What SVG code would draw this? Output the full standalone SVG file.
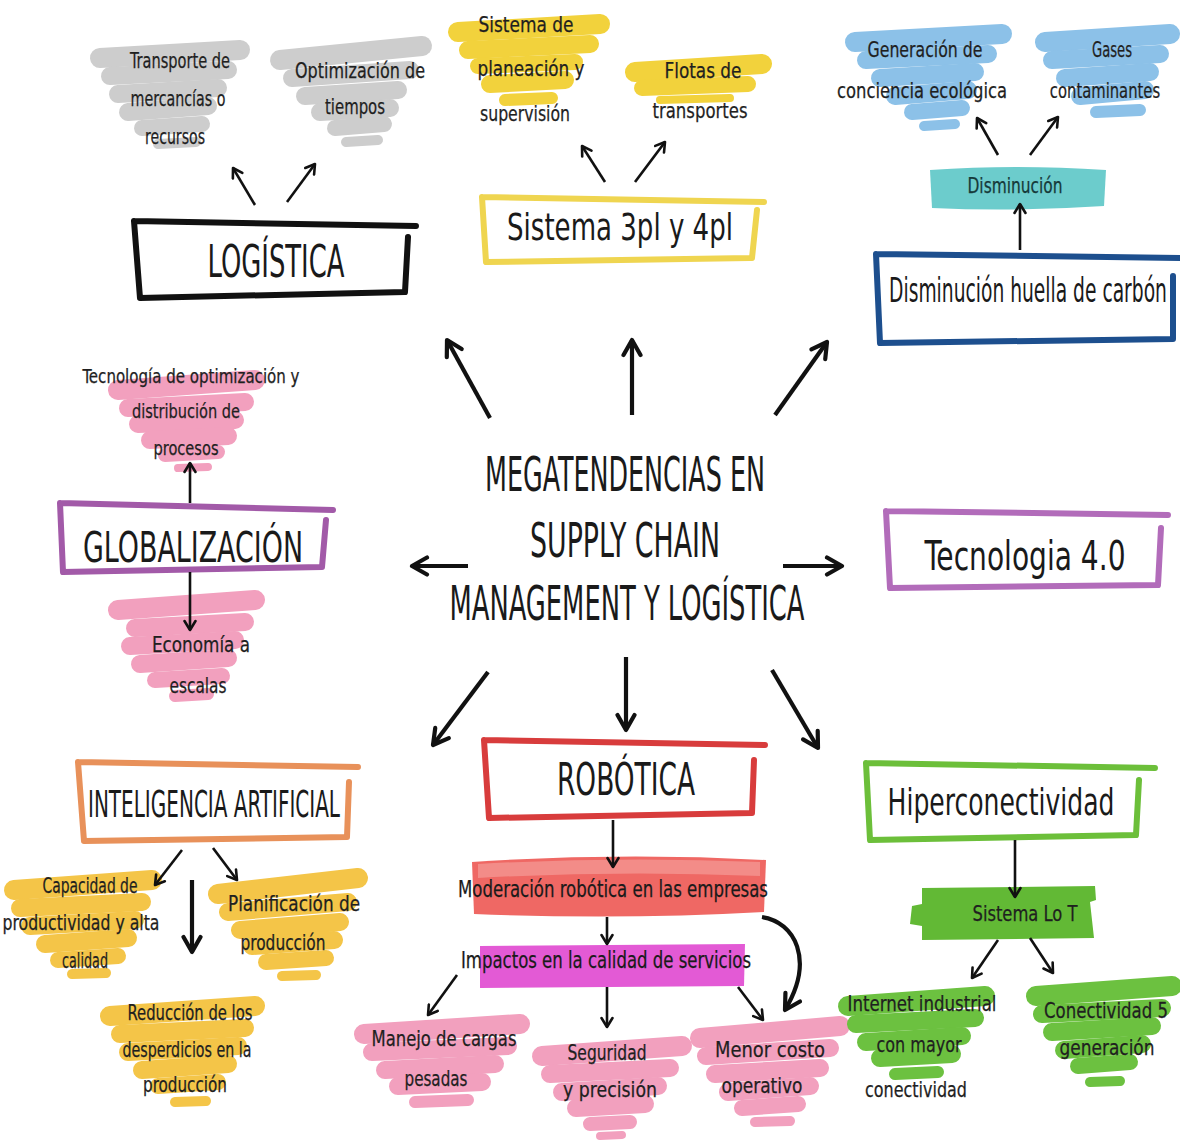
<svg xmlns="http://www.w3.org/2000/svg" width="1180" height="1144" viewBox="0 0 1180 1144">
<defs>
<style>
text{font-family:"Liberation Sans Narrow","DejaVu Sans Condensed","Liberation Sans",sans-serif;text-anchor:middle;fill:#1a1a1a}
.s{font-size:22px;fill:#1f1f1f;stroke:#1f1f1f;stroke-width:0.25}
.m{font-size:23px;stroke:#1a1a1a;stroke-width:0.25}
.b{font-size:42px}
.box{fill:none;stroke-linecap:round;stroke-linejoin:round;stroke-width:6}
.sw{fill:none;stroke-linecap:round;stroke-linejoin:round}
.gray{stroke:#cdcdcd}
.yel{stroke:#f2d23c}
.blu{stroke:#8cc1e8}
.pnk{stroke:#f2a0be}
.org{stroke:#f4c548}
.grn{stroke:#6cc140}
.ar{fill:none;stroke:#111;stroke-width:2.6;marker-end:url(#ah)}
.arb{fill:none;stroke:#111;stroke-width:4.2;marker-end:url(#ahb)}
</style>
<marker id="ah" viewBox="0 0 14 14" refX="12" refY="7" markerWidth="14" markerHeight="14" markerUnits="userSpaceOnUse" orient="auto">
<path d="M3,1.5 L12,7 L3,12.5" fill="none" stroke="#111" stroke-width="2.6" stroke-linecap="round" stroke-linejoin="round"/>
</marker>
<marker id="ahb" viewBox="0 0 22 22" refX="19" refY="11" markerWidth="22" markerHeight="22" markerUnits="userSpaceOnUse" orient="auto">
<path d="M4,2.5 L19,11 L4,19.5" fill="none" stroke="#111" stroke-width="4.2" stroke-linecap="round" stroke-linejoin="round"/>
</marker>
</defs>
<rect width="1180" height="1144" fill="#ffffff"/>

<g id="center">
<text x="625" y="491" style="font-size:48px" textLength="280" lengthAdjust="spacingAndGlyphs">MEGATENDENCIAS EN</text>
<text x="625" y="557" style="font-size:48px" textLength="190" lengthAdjust="spacingAndGlyphs">SUPPLY CHAIN</text>
<text x="627" y="620" style="font-size:48px" textLength="355" lengthAdjust="spacingAndGlyphs">MANAGEMENT Y LOGÍSTICA</text>
</g>

<g id="logistica">
<path class="box" stroke="#111" d="M134,221 L416,226 M134,221 L140,298 L405,292 M408,237 L405,292"/>
<text class="b" x="276" y="277" style="font-size:44px" textLength="137" lengthAdjust="spacingAndGlyphs">LOGÍSTICA</text>
</g>
<g id="transporte">
<g class="sw gray">
<path d="M100,58 L240,50" stroke-width="20"/>
<path d="M110,76 L228,70" stroke-width="18"/>
<path d="M118,94 L218,88" stroke-width="18"/>
<path d="M128,112 L208,106" stroke-width="18"/>
<path d="M142,128 L202,124" stroke-width="16"/>
<path d="M158,144 L196,142" stroke-width="10"/>
</g>
<text class="s" x="180" y="68" textLength="100" lengthAdjust="spacingAndGlyphs">Transporte de</text>
<text class="s" x="178" y="106" textLength="95" lengthAdjust="spacingAndGlyphs">mercancías o</text>
<text class="s" x="175" y="144" textLength="60" lengthAdjust="spacingAndGlyphs">recursos</text>
</g>
<g id="optimizacion">
<g class="sw gray">
<path d="M280,60 L422,46" stroke-width="20"/>
<path d="M292,78 L410,70" stroke-width="18"/>
<path d="M305,96 L398,90" stroke-width="18"/>
<path d="M320,112 L390,108" stroke-width="18"/>
<path d="M335,128 L384,124" stroke-width="16"/>
<path d="M346,142 L378,140" stroke-width="10"/>
</g>
<text class="s" x="360" y="78" textLength="130" lengthAdjust="spacingAndGlyphs">Optimización de</text>
<text class="s" x="355" y="114" textLength="60" lengthAdjust="spacingAndGlyphs">tiempos</text>
</g>

<g id="sistema3pl">
<path class="box" stroke="#efd550" d="M482,197 L764,202 M482,197 L486,262 L750,258 M757,210 L752,258"/>
<text class="b" x="620" y="240" style="font-size:38px" textLength="226" lengthAdjust="spacingAndGlyphs">Sistema 3pl y 4pl</text>
</g>
<g id="planeacion">
<g class="sw yel">
<path d="M458,32 L600,24" stroke-width="20"/>
<path d="M468,50 L590,44" stroke-width="18"/>
<path d="M478,66 L575,62" stroke-width="16"/>
<path d="M490,84 L565,80" stroke-width="18"/>
<path d="M505,100 L552,98" stroke-width="12"/>
</g>
<text class="s" x="526" y="32" textLength="95" lengthAdjust="spacingAndGlyphs">Sistema de</text>
<text class="s" x="531" y="76" textLength="107" lengthAdjust="spacingAndGlyphs">planeación y</text>
<text class="s" x="525" y="121" textLength="90" lengthAdjust="spacingAndGlyphs">supervisión</text>
</g>
<g id="flotas">
<g class="sw yel">
<path d="M635,72 L762,64" stroke-width="20"/>
<path d="M642,88 L748,84" stroke-width="16"/>
<path d="M660,100 L730,98" stroke-width="8"/>
</g>
<text class="s" x="703" y="78" textLength="77" lengthAdjust="spacingAndGlyphs">Flotas de</text>
<text class="s" x="700" y="118" textLength="95" lengthAdjust="spacingAndGlyphs">transportes</text>
</g>

<g id="generacion">
<g class="sw blu">
<path d="M855,42 L1002,34" stroke-width="20"/>
<path d="M866,60 L988,54" stroke-width="18"/>
<path d="M880,78 L975,72" stroke-width="18"/>
<path d="M895,96 L968,90" stroke-width="18"/>
<path d="M912,112 L962,108" stroke-width="16"/>
<path d="M924,126 L955,124" stroke-width="10"/>
</g>
<text class="s" x="925" y="57" textLength="115" lengthAdjust="spacingAndGlyphs">Generación de</text>
<text class="s" x="922" y="98" textLength="170" lengthAdjust="spacingAndGlyphs">conciencia ecológica</text>
</g>
<g id="gases">
<g class="sw blu">
<path d="M1045,42 L1170,34" stroke-width="20"/>
<path d="M1052,60 L1160,54" stroke-width="18"/>
<path d="M1065,78 L1150,72" stroke-width="18"/>
<path d="M1080,96 L1145,90" stroke-width="18"/>
<path d="M1096,112 L1140,110" stroke-width="12"/>
</g>
<text class="s" x="1112" y="57" textLength="40" lengthAdjust="spacingAndGlyphs">Gases</text>
<text class="s" transform="translate(1105,98) scale(0.74,1)" x="0" y="0" textLength="149" lengthAdjust="spacingAndGlyphs">contaminantes</text>
</g>
<g id="disminucion">
<path d="M930,170 Q1015,164 1106,170 L1104,206 Q1015,212 932,208 Z" fill="#6ccccc"/>
<text class="s" x="1015" y="193" style="fill:#163a3a;stroke:#163a3a" textLength="95" lengthAdjust="spacingAndGlyphs">Disminución</text>
</g>
<g id="huella">
<path class="box" stroke="#1d4f8e" d="M876,254 L1180,258 M876,254 L880,343 L1173,339 M1173,276 L1173,339"/>
<text class="b" transform="translate(1028,302) scale(0.6,1)" x="0" y="0" style="font-size:33px" textLength="463" lengthAdjust="spacingAndGlyphs">Disminución huella de carbón</text>
</g>

<g id="tecnologiaopt">
<g class="sw pnk">
<path d="M118,390 L255,380" stroke-width="20"/>
<path d="M128,408 L245,402" stroke-width="18"/>
<path d="M138,424 L235,420" stroke-width="18"/>
<path d="M150,440 L228,436" stroke-width="18"/>
<path d="M165,455 L218,452" stroke-width="14"/>
<path d="M178,468 L208,467" stroke-width="8"/>
</g>
<text class="s" x="191" y="383" style="font-size:20px" textLength="217" lengthAdjust="spacingAndGlyphs">Tecnología de optimización y</text>
<text class="s" x="186" y="418" style="font-size:20px" textLength="108" lengthAdjust="spacingAndGlyphs">distribución de</text>
<text class="s" x="186" y="455" style="font-size:20px" textLength="65" lengthAdjust="spacingAndGlyphs">procesos</text>
</g>
<g id="globalizacion">
<path class="box" stroke="#a25aa8" d="M60,503 L333,510 M60,503 L63,572 L322,567 M326,520 L322,567"/>
<text class="b" x="193" y="562" textLength="220" lengthAdjust="spacingAndGlyphs">GLOBALIZACIÓN</text>
</g>
<g id="economia">
<g class="sw pnk">
<path d="M118,610 L255,600" stroke-width="20"/>
<path d="M135,628 L245,622" stroke-width="18"/>
<path d="M130,646 L235,640" stroke-width="18"/>
<path d="M140,664 L228,658" stroke-width="18"/>
<path d="M155,680 L222,676" stroke-width="16"/>
<path d="M175,696 L208,694" stroke-width="12"/>
</g>
<text class="s" x="201" y="652" textLength="98" lengthAdjust="spacingAndGlyphs">Economía a</text>
<text class="s" x="198" y="693" textLength="57" lengthAdjust="spacingAndGlyphs">escalas</text>
</g>

<g id="tecnologia40">
<path class="box" stroke="#b26cba" d="M886,511 L1168,515 M886,511 L890,588 L1158,585 M1161,528 L1158,585"/>
<text class="b" x="1025" y="570" style="font-size:40px" textLength="201" lengthAdjust="spacingAndGlyphs">Tecnologia 4.0</text>
</g>

<g id="ia">
<path class="box" stroke="#e8915a" d="M78,762 L358,767 M78,762 L84,841 L347,837 M349,782 L347,837"/>
<text class="b" x="214" y="817" style="font-size:38px" textLength="252" lengthAdjust="spacingAndGlyphs">INTELIGENCIA ARTIFICIAL</text>
</g>
<g id="capacidad">
<g class="sw org">
<path d="M14,890 L152,880" stroke-width="20"/>
<path d="M20,908 L142,902" stroke-width="18"/>
<path d="M30,926 L135,920" stroke-width="18"/>
<path d="M45,944 L128,938" stroke-width="18"/>
<path d="M58,960 L118,956" stroke-width="16"/>
<path d="M72,974 L106,973" stroke-width="10"/>
</g>
<text class="s" x="90" y="893" style="font-size:21px" textLength="95" lengthAdjust="spacingAndGlyphs">Capacidad de</text>
<text class="s" x="81" y="930" style="font-size:21px" textLength="157" lengthAdjust="spacingAndGlyphs">productividad y alta</text>
<text class="s" x="85" y="968" style="font-size:21px" textLength="46" lengthAdjust="spacingAndGlyphs">calidad</text>
</g>
<g id="planificacion">
<g class="sw org">
<path d="M218,894 L358,878" stroke-width="20"/>
<path d="M228,912 L348,902" stroke-width="18"/>
<path d="M240,930 L340,922" stroke-width="18"/>
<path d="M252,946 L334,940" stroke-width="18"/>
<path d="M266,962 L326,958" stroke-width="16"/>
<path d="M282,976 L316,975" stroke-width="10"/>
</g>
<text class="s" x="294" y="911" style="font-size:21px" textLength="132" lengthAdjust="spacingAndGlyphs">Planificación de</text>
<text class="s" x="283" y="950" style="font-size:21px" textLength="85" lengthAdjust="spacingAndGlyphs">producción</text>
</g>
<g id="reduccion">
<g class="sw org">
<path d="M110,1016 L255,1006" stroke-width="20"/>
<path d="M120,1034 L245,1028" stroke-width="18"/>
<path d="M128,1052 L238,1046" stroke-width="18"/>
<path d="M142,1070 L228,1064" stroke-width="18"/>
<path d="M158,1086 L218,1082" stroke-width="16"/>
<path d="M175,1102 L206,1101" stroke-width="10"/>
</g>
<text class="s" x="190" y="1020" style="font-size:21px" textLength="125" lengthAdjust="spacingAndGlyphs">Reducción de los</text>
<text class="s" x="187" y="1057" style="font-size:21px" textLength="129" lengthAdjust="spacingAndGlyphs">desperdicios en la</text>
<text class="s" x="185" y="1092" style="font-size:21px" textLength="84" lengthAdjust="spacingAndGlyphs">producción</text>
</g>

<g id="robotica">
<path class="box" stroke="#d83c3c" d="M484,740 L765,745 M484,740 L489,818 L752,813 M754,760 L752,813"/>
<text class="b" x="626" y="795" style="font-size:44px" textLength="138" lengthAdjust="spacingAndGlyphs">ROBÓTICA</text>
</g>
<g id="moderacion">
<path d="M472,862 Q620,852 766,860 L764,912 Q620,920 474,914 Z" fill="#ef6864"/>
<path d="M478,864 Q620,856 760,862 L760,876 Q620,870 478,878 Z" fill="#f38c88"/>
<text class="m" x="613" y="897" textLength="310" lengthAdjust="spacingAndGlyphs">Moderación robótica en las empresas</text>
</g>
<g id="impactos">
<path d="M480,946 L745,944 L744,986 L480,988 Z" fill="#e35ad5"/>
<text class="m" x="606" y="968" textLength="290" lengthAdjust="spacingAndGlyphs">Impactos en la calidad de servicios</text>
</g>
<g id="manejo">
<g class="sw pnk">
<path d="M364,1034 L520,1024" stroke-width="20"/>
<path d="M372,1052 L508,1046" stroke-width="18"/>
<path d="M385,1070 L495,1064" stroke-width="18"/>
<path d="M398,1086 L482,1082" stroke-width="18"/>
<path d="M415,1102 L468,1100" stroke-width="12"/>
</g>
<text class="s" x="444" y="1046" textLength="145" lengthAdjust="spacingAndGlyphs">Manejo de cargas</text>
<text class="s" x="436" y="1086" textLength="63" lengthAdjust="spacingAndGlyphs">pesadas</text>
</g>
<g id="seguridad">
<g class="sw pnk">
<path d="M542,1056 L682,1046" stroke-width="20"/>
<path d="M550,1074 L670,1068" stroke-width="18"/>
<path d="M562,1092 L658,1086" stroke-width="18"/>
<path d="M576,1108 L645,1104" stroke-width="18"/>
<path d="M590,1124 L630,1122" stroke-width="14"/>
<path d="M600,1136 L622,1135" stroke-width="8"/>
</g>
<text class="s" x="607" y="1060" textLength="79" lengthAdjust="spacingAndGlyphs">Seguridad</text>
<text class="s" x="610" y="1097" textLength="94" lengthAdjust="spacingAndGlyphs">y precisión</text>
</g>
<g id="menor">
<g class="sw pnk">
<path d="M700,1038 L840,1026" stroke-width="20"/>
<path d="M706,1056 L830,1048" stroke-width="18"/>
<path d="M715,1074 L820,1068" stroke-width="18"/>
<path d="M728,1092 L810,1086" stroke-width="18"/>
<path d="M742,1108 L798,1104" stroke-width="16"/>
<path d="M755,1122 L790,1121" stroke-width="10"/>
</g>
<text class="s" x="770" y="1057" textLength="110" lengthAdjust="spacingAndGlyphs">Menor costo</text>
<text class="s" x="762" y="1093" textLength="81" lengthAdjust="spacingAndGlyphs">operativo</text>
</g>

<g id="hiperconectividad">
<path class="box" stroke="#6cbf3a" d="M866,763 L1155,768 M866,763 L870,840 L1136,835 M1139,780 L1136,835"/>
<text class="b" transform="translate(1001,815) scale(0.7,1)" x="0" y="0" style="font-size:38px" textLength="324" lengthAdjust="spacingAndGlyphs">Hiperconectividad</text>
</g>
<g id="sistemaiot">
<path d="M922,888 L1095,886 L1096,900 L1090,902 L1094,938 L922,940 L922,926 L910,924 L912,906 L922,904 Z" fill="#62b935"/>
<text class="s" x="1025" y="921" textLength="105" lengthAdjust="spacingAndGlyphs">Sistema Lo T</text>
</g>
<g id="internet">
<g class="sw grn">
<path d="M848,1006 L985,996" stroke-width="20"/>
<path d="M856,1024 L975,1018" stroke-width="18"/>
<path d="M866,1042 L962,1036" stroke-width="18"/>
<path d="M880,1058 L952,1054" stroke-width="18"/>
<path d="M895,1074 L938,1072" stroke-width="12"/>
</g>
<text class="s" x="922" y="1011" textLength="149" lengthAdjust="spacingAndGlyphs">Internet industrial</text>
<text class="s" x="919" y="1052" textLength="85" lengthAdjust="spacingAndGlyphs">con mayor</text>
<text class="s" x="916" y="1097" textLength="102" lengthAdjust="spacingAndGlyphs">conectividad</text>
</g>
<g id="conectividad5">
<g class="sw grn">
<path d="M1036,996 L1172,986" stroke-width="20"/>
<path d="M1042,1014 L1162,1008" stroke-width="18"/>
<path d="M1052,1032 L1152,1026" stroke-width="18"/>
<path d="M1064,1050 L1142,1044" stroke-width="18"/>
<path d="M1078,1066 L1130,1062" stroke-width="16"/>
<path d="M1090,1082 L1120,1081" stroke-width="10"/>
</g>
<text class="s" transform="translate(1106,1018) scale(0.78,1)" x="0" y="0" textLength="159" lengthAdjust="spacingAndGlyphs">Conectividad 5</text>
<text class="s" x="1107" y="1055" textLength="95" lengthAdjust="spacingAndGlyphs">generación</text>
</g>

<g id="connectors">
<path class="arb" d="M490,418 L447,340"/>
<path class="arb" d="M632,415 L632,340"/>
<path class="arb" d="M775,415 L827,342"/>
<path class="arb" d="M468,566 L412,566"/>
<path class="arb" d="M783,566 L842,566"/>
<path class="arb" d="M488,672 L433,745"/>
<path class="arb" d="M626,657 L626,730"/>
<path class="arb" d="M772,670 L818,748"/>
<path class="ar" d="M255,205 L233,168"/>
<path class="ar" d="M287,202 L315,164"/>
<path class="ar" d="M605,182 L582,146"/>
<path class="ar" d="M635,182 L665,142"/>
<path class="ar" d="M998,155 L977,118"/>
<path class="ar" d="M1030,155 L1058,117"/>
<path class="ar" d="M1020,250 L1020,204"/>
<path class="ar" d="M190,503 L190,463"/>
<path class="ar" d="M190,572 L190,630"/>
<path class="ar" d="M182,850 L155,885"/>
<path class="ar" d="M213,848 L237,880"/>
<path class="arb" d="M192,880 L192,952"/>
<path class="ar" d="M613,820 L613,867"/>
<path class="ar" d="M607,917 L607,944"/>
<path class="ar" d="M457,975 L428,1015"/>
<path class="ar" d="M607,987 L607,1027"/>
<path class="ar" d="M738,987 L763,1020"/>
<path class="arb" d="M762,917 C795,922 815,960 785,1010"/>
<path class="ar" d="M1015,840 L1015,897"/>
<path class="ar" d="M998,940 L972,978"/>
<path class="ar" d="M1030,938 L1053,973"/>
</g>
</svg>
